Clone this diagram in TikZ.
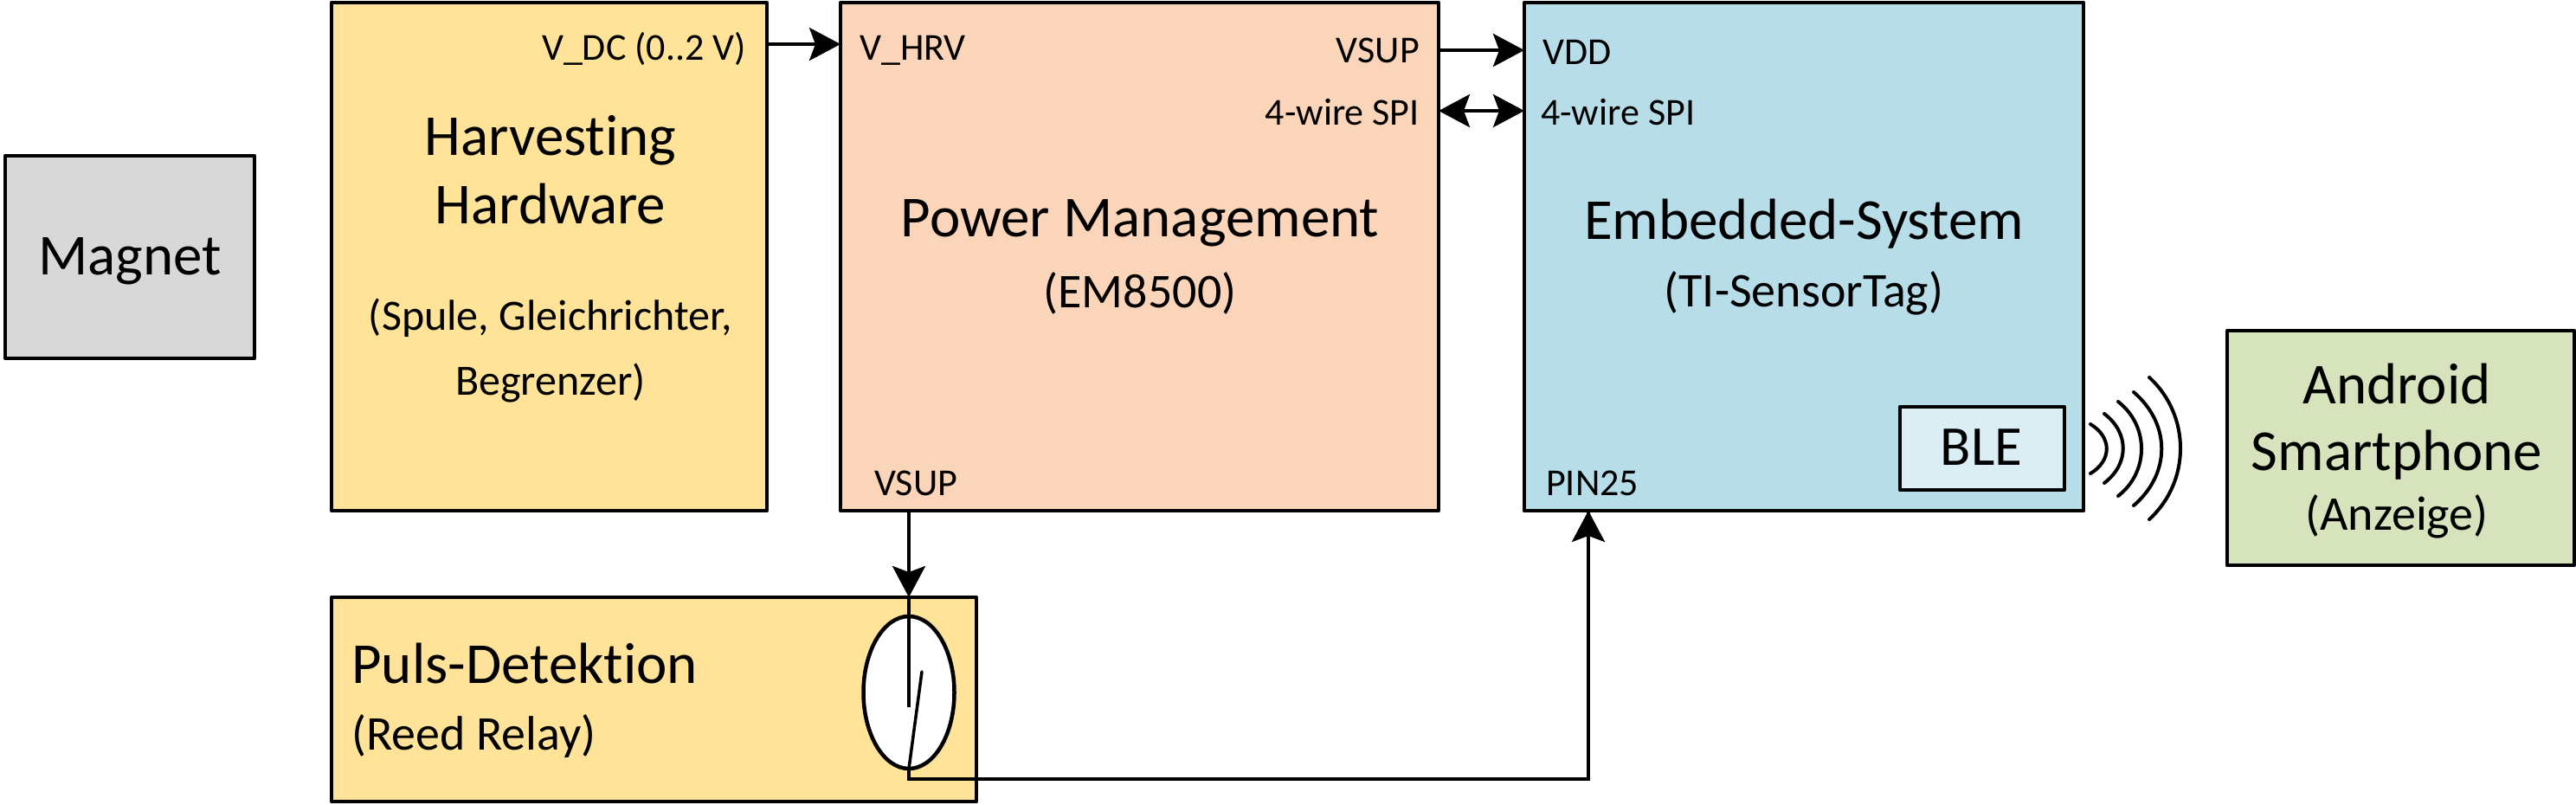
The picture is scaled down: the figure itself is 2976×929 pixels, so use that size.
\documentclass[tikz,border=0pt]{standalone}
\usepackage{fontspec}
\setmainfont{Carlito}[Ligatures=NoCommon]
\usetikzlibrary{shapes.geometric,arrows.meta,calc}
\tikzset{
  x=1pt,y=-1pt,
  blockbox/.style={draw=black,line width=4.5pt,line join=round,outer sep=0pt,inner sep=0pt},
  conn/.style={draw=black,line width=4pt},
  tip/.style={-{Stealth[length=36pt,width=38pt,inset=7pt]}},
  twotip/.style={{Stealth[length=36pt,width=38pt,inset=7pt]}-{Stealth[length=36pt,width=38pt,inset=7pt]}},
  wave/.style={draw=black,line width=4pt,line cap=round},
  title/.style={inner sep=0pt,font=\fontsize{67}{67}\selectfont},
  sub/.style={inner sep=0pt,font=\fontsize{56}{56}\selectfont},
  subsmall/.style={inner sep=0pt,font=\fontsize{50}{50}\selectfont},
  port/.style={inner sep=0pt,font=\fontsize{44}{44}\selectfont},
}
\definecolor{cyellow}{HTML}{FEE399}
\definecolor{cpeach}{HTML}{FBD5B9}
\definecolor{cblue}{HTML}{B7DDE8}
\definecolor{clight}{HTML}{DBEEF3}
\definecolor{cgreen}{HTML}{D7E3BC}
\definecolor{cgrey}{HTML}{D8D8D8}
\begin{document}
\begin{tikzpicture}
\useasboundingbox (0,0) rectangle (2976,929);
% blocks
\node[blockbox,fill=cgrey,minimum width=288pt,minimum height=234pt] (mag) at (150,297) {};
\node[blockbox,fill=cyellow,minimum width=503pt,minimum height=587pt] (hv) at (634.5,296.5) {};
\node[blockbox,fill=cpeach,minimum width=691pt,minimum height=587pt] (pm) at (1316.5,296.5) {};
\node[blockbox,fill=cblue,minimum width=646pt,minimum height=587pt] (es) at (2084,296.5) {};
\node[blockbox,fill=clight,minimum width=190pt,minimum height=96pt] (ble) at (2290,518) {};
\node[blockbox,fill=cgreen,minimum width=401pt,minimum height=271pt] (an) at (2773.5,517.5) {};
\node[blockbox,fill=cyellow,minimum width=745pt,minimum height=236pt] (pd) at (755.5,808) {};
\node[draw=black,line width=4.5pt,fill=white,ellipse,minimum width=105pt,minimum height=176pt,inner sep=0pt,outer sep=0pt] (rd) at (1050,800) {};
% labels
\node[title] (t1) at (150,302) {Magnet};
\node[title] (t2) at (636,162) {Harvesting};
\node[title] (t3) at (636,235) {Hardware};
\node[subsmall] (t4) at (636,367) {(Spule, Gleichrichter,};
\node[subsmall] (t5) at (636,443) {Begrenzer)};
\node[port] (p1) at (744,56) {V\_DC (0..2 V)};
\node[port,anchor=west] (p2) at (993,58) {V\_HRV};
\node[port,anchor=east] (p3) at (1640,58) {VSUP};
\node[port,anchor=east] (p4) at (1640,130) {4-wire SPI};
\node[title] (t6) at (1317,258) {Power Management};
\node[sub] (t7) at (1317,339) {(EM8500)};
\node[port,anchor=west] (p5) at (1010,558) {VSUP};
\node[port,anchor=west] (p6) at (1782,60) {VDD};
\node[port,anchor=west] (p7) at (1780,130) {4-wire SPI};
\node[title] (t8) at (2084,259) {Embedded-System};
\node[sub] (t9) at (2084,339) {(TI-SensorTag)};
\node[port,anchor=west] (p8) at (1786,558) {PIN25};
\node[title,font=\fontsize{65}{65}\selectfont] (t10) at (2289,517) {BLE};
\node[title] (t11) at (2769,443) {Android};
\node[title] (t12) at (2769,526) {Smartphone};
\node[sub] (t13) at (2769,597) {(Anzeige)};
\node[title,anchor=west] (t14) at (406,766) {Puls-Detektion};
\node[sub,anchor=west] (t15) at (406,851) {(Reed Relay)};
% connectors
\draw[conn,tip] ($(hv.north east)+(0,48)$) -- ($(pm.north west)+(0,48)$);
\draw[conn,tip] ($(pm.north east)+(0,55)$) -- ($(es.north west)+(0,55)$);
\draw[conn,twotip] ($(pm.north east)+(0,125)$) -- ($(es.north west)+(0,125)$);
\draw[conn,tip] (rd.north |- pm.south) -- (rd.north |- pd.north);
\draw[conn] (rd.north |- pd.north) -- ($(rd.center)+(0,17)$);
\draw[conn,line cap=round,line width=3.5pt] (rd.south) -- ($(rd.center)+(15,-24)$);
\draw[conn] (rd.south) -- ($(rd.south)+(0,12)$) -| ($(es.south west)+(74,0)$) coordinate (pinfoot);
\draw[conn,tip] ($(es.south west)+(74,100)$) -- ($(es.south west)+(74,0)$);
% radio waves
\draw[wave] (2415,490) .. controls (2440,505) and (2440,532) .. (2415,547);
\draw[wave] (2431,478) .. controls (2460,500) and (2460,536) .. (2431,558);
\draw[wave] (2447,464) .. controls (2483,492) and (2483,545) .. (2447,573);
\draw[wave] (2465,453) .. controls (2508,490) and (2508,547) .. (2465,584);
\draw[wave] (2483,436) .. controls (2531,480) and (2531,556) .. (2483,600);
\end{tikzpicture}
\end{document}
